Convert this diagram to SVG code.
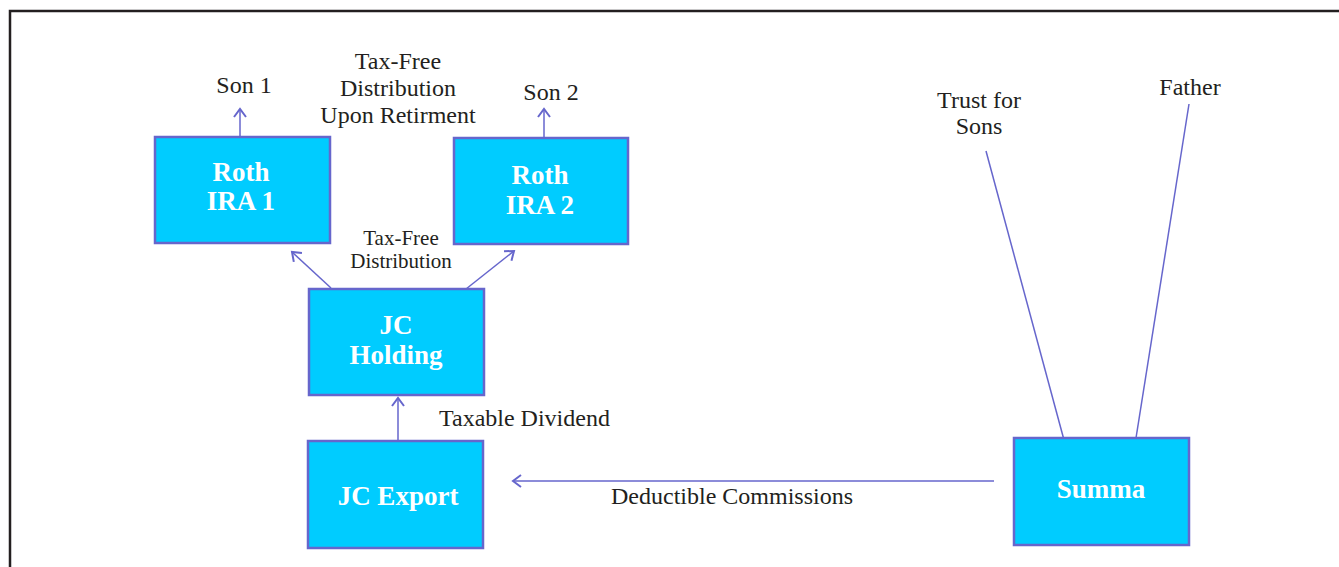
<svg xmlns="http://www.w3.org/2000/svg" width="1339" height="567" viewBox="0 0 1339 567">
<style>
.box{fill:#00CCFF;stroke:#6666CC;stroke-width:2.5}
.bt{font-family:"Liberation Serif",serif;font-weight:bold;font-size:27px;fill:#fff;text-anchor:middle}
.lb{font-family:"Liberation Serif",serif;font-size:24px;fill:#231f20}
.sm{font-family:"Liberation Serif",serif;font-size:21px;fill:#231f20;text-anchor:middle}
.c{stroke:#6666CC;stroke-width:1.5;fill:none}
</style>
<defs>
<marker id="ah" markerWidth="16" markerHeight="16" viewBox="-10 -8 12 16" refX="0" refY="0" orient="auto" markerUnits="userSpaceOnUse">
<path d="M-8,-6 L0,0 L-8,6" fill="none" stroke="#6666CC" stroke-width="2"/>
</marker>
</defs>
<rect x="0" y="0" width="1339" height="567" fill="#fff"/>
<path d="M10,567 V11 H1339" fill="none" stroke="#231f20" stroke-width="2.5"/>
<g id="connectors">
<line class="c" x1="240" y1="136" x2="240" y2="109" marker-end="url(#ah)"/>
<line class="c" x1="544" y1="137" x2="544" y2="109" marker-end="url(#ah)"/>
<line class="c" x1="331" y1="288" x2="292" y2="252" marker-end="url(#ah)"/>
<line class="c" x1="466" y1="289" x2="514" y2="251" marker-end="url(#ah)"/>
<line class="c" x1="398" y1="441" x2="398" y2="398" marker-end="url(#ah)"/>
<line class="c" x1="994" y1="481" x2="513" y2="481" marker-end="url(#ah)"/>
<line class="c" x1="986" y1="151" x2="1064" y2="440"/>
<line class="c" x1="1189" y1="104" x2="1136" y2="438"/>
</g>
<g id="roth1"><rect class="box" x="155" y="137" width="175" height="106"/><text class="bt" x="241" y="181">Roth</text><text class="bt" x="241" y="210">IRA 1</text></g>
<g id="roth2"><rect class="box" x="454" y="138" width="174" height="106"/><text class="bt" x="540" y="184">Roth</text><text class="bt" x="540" y="214">IRA 2</text></g>
<g id="holding"><rect class="box" x="309" y="289" width="175" height="106"/><text class="bt" x="396" y="334">JC</text><text class="bt" x="396" y="364">Holding</text></g>
<g id="export"><rect class="box" x="308" y="441" width="175" height="107"/><text class="bt" x="398" y="505">JC Export</text></g>
<g id="summa"><rect class="box" x="1014" y="438" width="175" height="107"/><text class="bt" x="1101" y="498">Summa</text></g>
<g id="labels">
<text class="lb" x="244" y="93" text-anchor="middle">Son 1</text>
<text class="lb" x="551" y="100" text-anchor="middle">Son 2</text>
<text class="lb" x="398" y="69" text-anchor="middle">Tax-Free</text>
<text class="lb" x="398" y="96" text-anchor="middle">Distribution</text>
<text class="lb" x="398" y="123" text-anchor="middle">Upon Retirment</text>
<text class="sm" x="401" y="245">Tax-Free</text>
<text class="sm" x="401" y="268">Distribution</text>
<text class="lb" x="439" y="426">Taxable Dividend</text>
<text class="lb" x="611" y="504">Deductible Commissions</text>
<text class="lb" x="979" y="108" text-anchor="middle">Trust for</text>
<text class="lb" x="979" y="134" text-anchor="middle">Sons</text>
<text class="lb" x="1190" y="95" text-anchor="middle">Father</text>
</g>
</svg>
